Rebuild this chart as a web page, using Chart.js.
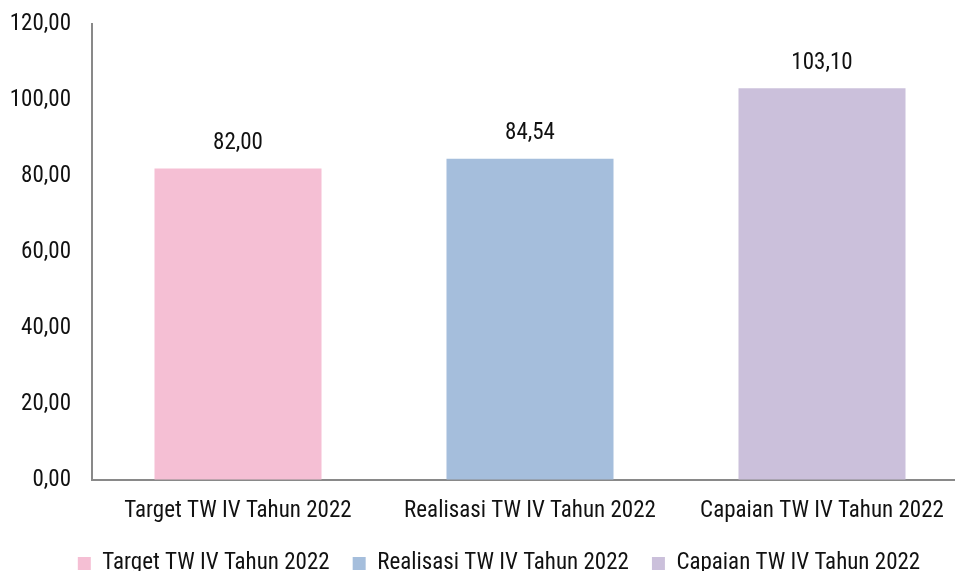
<!DOCTYPE html>
<html>
<head>
<meta charset="utf-8">
<script src="https://cdn.jsdelivr.net/npm/chart.js@4.4.0/dist/chart.umd.min.js"></script>
<style>
  html, body { margin: 0; padding: 0; background: #fff; overflow: hidden; width: 955px; height: 571px; }
  #wrap { position: absolute; left: 0; top: 0; width: 968px; height: 571px; }
</style>
</head>
<body>
<div id="wrap"><canvas id="c" width="968" height="571"></canvas></div>
<script>
const categories = ["Target TW IV Tahun 2022", "Realisasi TW IV Tahun 2022", "Capaian TW IV Tahun 2022"];
const values = [82.00, 84.54, 103.10];
const barColors = ["#F5BFD4", "#A5BEDC", "#CBC0DB"];
const yTicks = [0, 20, 40, 60, 80, 100, 120];

// pick a narrow font if one is installed, otherwise size the fallback to the same text width
const mctx = document.createElement('canvas').getContext('2d');
function textW(fam, size) { mctx.font = size + 'px ' + fam; return mctx.measureText(categories[0]).width; }
function installed(name) {
  return textW('"' + name + '", monospace', 40) !== textW('monospace', 40) ||
         textW('"' + name + '", serif', 40) !== textW('serif', 40);
}
const candidates = ["Liberation Sans Narrow", "Arial Narrow", "Roboto Condensed", "Liberation Sans"];
let FAMILY = '"Liberation Sans", Arial, sans-serif';
for (const c of candidates) { if (installed(c)) { FAMILY = '"' + c + '", "Liberation Sans", sans-serif'; break; } }
const TARGET_W = 228; // width of a category label in the reference
let FS = Math.min(24, Math.round(24 * TARGET_W / textW(FAMILY, 24) * 2) / 2);

const fmt = v => Number(v).toFixed(2).replace('.', ',');

const dataLabels = {
  id: 'dataLabels',
  afterDatasetsDraw(chart) {
    const ctx = chart.ctx;
    ctx.save();
    ctx.font = FS + 'px ' + FAMILY;
    ctx.fillStyle = '#111';
    ctx.textAlign = 'center';
    ctx.textBaseline = 'middle';
    chart.data.datasets.forEach((ds, di) => {
      chart.getDatasetMeta(di).data.forEach((el, i) => {
        if (ds.data[i] == null) return;
        ctx.fillText(fmt(ds.data[i]), el.x, el.y - 25);
      });
    });
    ctx.restore();
  }
};

const legendShift = {
  id: 'legendShift',
  afterLayout(chart) {
    if (chart.legend) { chart.legend.left += 15; chart.legend.right += 15; }
  }
};

const datasets = categories.map((c, i) => ({
  label: c,
  data: categories.map((_, j) => (j === i ? values[i] : null)),
  backgroundColor: barColors[i],
  borderWidth: 0,
  barPercentage: 0.572,
  categoryPercentage: 1,
  skipNull: true
}));

Chart.defaults.font.family = FAMILY;
Chart.defaults.color = '#111';

new Chart(document.getElementById('c'), {
  type: 'bar',
  data: { labels: categories, datasets },
  options: {
    responsive: false,
    animation: false,
    layout: { padding: { top: 24, left: 0, right: 0, bottom: 0 } },
    plugins: {
      legend: {
        position: 'bottom',
        maxHeight: 42,
        labels: { boxWidth: 13, boxHeight: 13, padding: 23, font: { size: FS }, color: '#111' }
      },
      tooltip: { enabled: false }
    },
    scales: {
      x: {
        grid: { display: true, drawOnChartArea: false, drawTicks: false },
        border: { display: true, color: '#898989', width: 2 },
        ticks: { padding: 17, font: { size: FS }, color: '#111', maxRotation: 0, autoSkip: false },
        afterFit(s) { s.height = 49; s.paddingLeft = 0; s.paddingRight = 0; }
      },
      y: {
        min: 0, max: 120,
        afterBuildTicks(s) { s.ticks = yTicks.map(v => ({ value: v })); },
        grid: { display: true, drawOnChartArea: false, drawTicks: false },
        border: { display: true, color: '#898989', width: 2 },
        ticks: { padding: 21, font: { size: FS }, color: '#111', callback: v => fmt(v) },
        afterFit(s) { s.width = 92; s.paddingTop = 0; s.paddingBottom = 0; }
      }
    }
  },
  plugins: [dataLabels, legendShift]
});
</script>
</body>
</html>
